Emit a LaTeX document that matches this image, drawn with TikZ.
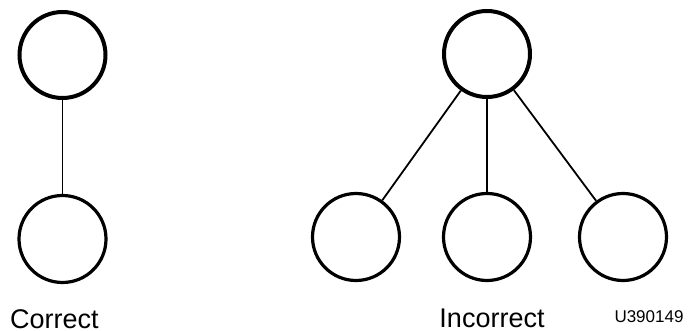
\documentclass[tikz,border=0pt]{standalone}
\usepackage{fontspec}
\setmainfont{Liberation Sans}
\begin{document}
\begin{tikzpicture}[x=1pt,y=1pt,
  topc/.style={circle,draw=black,line width=4pt,inner sep=0pt,minimum size=86pt},
  botc/.style={circle,draw=black,line width=3.2pt,inner sep=0pt,minimum size=87pt},
  conn/.style={draw=black,line width=1.8pt},
  lab/.style={inner sep=0pt,anchor=base,font=\fontsize{27}{30}\selectfont},
  code/.style={inner sep=0pt,anchor=base,font=\fontsize{17}{19}\selectfont}]
\useasboundingbox (0,0) rectangle (688,-331);
\node[topc] (lt) at (62.5,-55) {};
\node[botc] (lb) at (62.5,-239) {};
\node[topc] (rt) at (487,-54) {};
\node[botc] (r1) at (356,-237) {};
\node[botc] (r2) at (487,-237) {};
\node[botc] (r3) at (623,-237) {};
\draw[conn] (lt) -- (lb);
\draw[conn] (rt) -- (r1);
\draw[conn] (rt) -- (r2);
\draw[conn] (rt) -- (r3);
\node[lab] (cor) at (54.5,-328.5) {Correct};
\node[lab] (inc) at (492,-327.5) {Incorrect};
\node[code] (id) at (649,-322.5) {U390149};
\end{tikzpicture}
\end{document}
